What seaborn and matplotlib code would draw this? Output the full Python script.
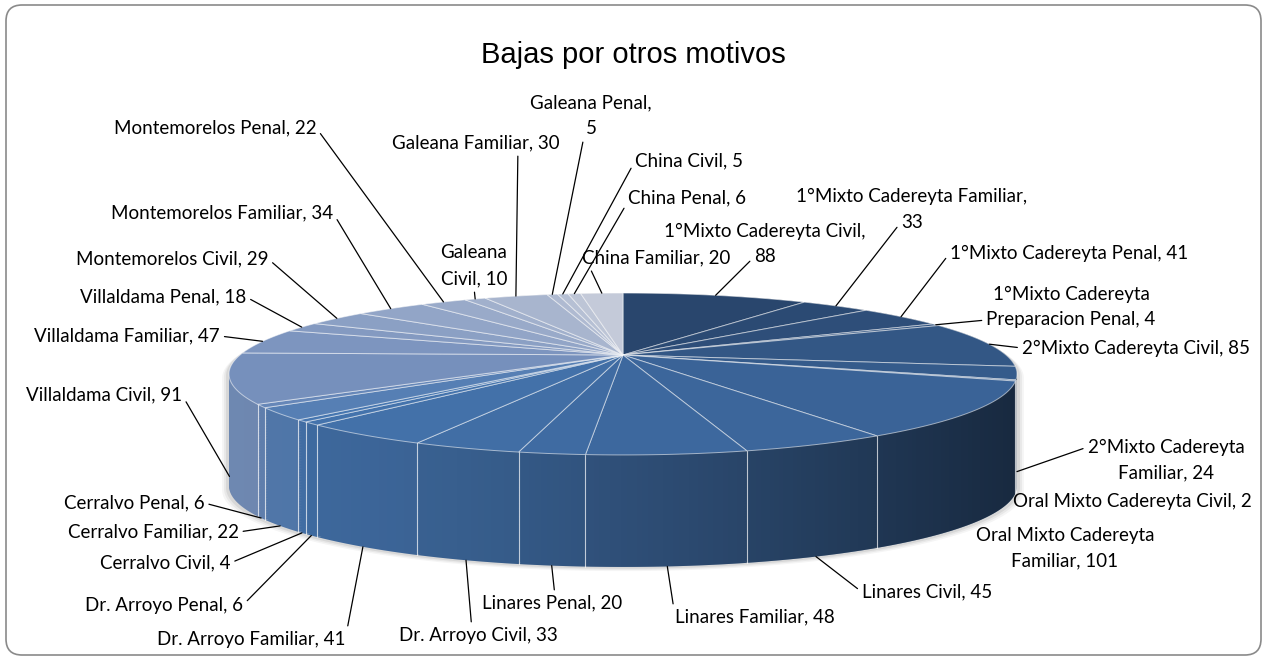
import numpy as np
import matplotlib
matplotlib.use("Agg")
import matplotlib.pyplot as plt
import seaborn as sns
from matplotlib.transforms import Transform
from matplotlib.path import Path
from matplotlib.patches import FancyBboxPatch, Polygon

# ---------------- data ----------------
categories = [
    "1°Mixto Cadereyta Civil", "1°Mixto Cadereyta Familiar", "1°Mixto Cadereyta Penal",
    "1°Mixto Cadereyta Preparacion Penal", "2°Mixto Cadereyta Civil", "2°Mixto Cadereyta Familiar",
    "Oral Mixto Cadereyta Civil", "Oral Mixto Cadereyta Familiar",
    "Linares Civil", "Linares Familiar", "Linares Penal",
    "Dr. Arroyo Civil", "Dr. Arroyo Familiar", "Dr. Arroyo Penal",
    "Cerralvo Civil", "Cerralvo Familiar", "Cerralvo Penal",
    "Villaldama Civil", "Villaldama Familiar", "Villaldama Penal",
    "Montemorelos Civil", "Montemorelos Familiar", "Montemorelos Penal",
    "Galeana Civil", "Galeana Familiar", "Galeana Penal",
    "China Civil", "China Penal", "China Familiar",
]
values = [88, 33, 41, 4, 85, 24, 2, 101, 45, 48, 20, 33, 41, 6, 4, 22, 6,
          91, 47, 18, 29, 34, 22, 10, 30, 5, 5, 6, 20]
title = "Bajas por otros motivos"

# ---------------- layout / style ----------------
W, H = 1267, 659
CX, CY = 623.0, 304.0        # pie vertex (pixels, y up)
RX, RY = 383.0, 76.5         # projected radii
PERSP = 0.2346               # perspective strength
DEPTH = 112.0                # side height in pixels
LINE_GAP = 26.0              # distance between wrapped label lines

# label layout: (center x, center y from top, leader rel x, leader rel y, line carrying leader)
label_pos = [
    (765, 244, 0.0, 0.5, 1), (912, 209, 0.0, 0.5, 1), (1069, 253, 0.0, 0.5, 0),
    (1071, 307, 0.0, 0.5, 1), (1136, 348, 0.0, 0.5, 0), (1166, 460, 0.0, 0.5, 0),
    (1132, 502, None, None, 0), (1065, 548, None, None, 0),
    (927, 592, 0.0, 0.5, 0), (755, 617, 0.0, 0.5, 0), (552, 603, 0.52, 1.0, 0),
    (478, 635, 0.46, 1.0, 0), (251, 639, 1.0, 0.5, 0), (164, 605, 1.0, 0.5, 0),
    (165, 563, 1.0, 0.5, 0), (153, 532, 1.0, 0.5, 0), (134, 503, 1.0, 0.5, 0),
    (104, 395, 1.0, 0.5, 0), (127, 336, 1.0, 0.5, 0), (163, 297, 1.0, 0.5, 0),
    (172, 259, 1.0, 0.5, 0), (222, 213, 1.0, 0.5, 0), (215, 128, 1.0, 0.5, 0),
    (474, 266, 0.5, 0.0, 1), (476, 143, 0.75, 0.0, 0), (591, 116, 0.0, 0.5, 1),
    (689, 161, 0.0, 0.5, 0), (687, 198, 0.0, 0.3, 0), (656, 258, 0.05, 0.0, 0),
]
label_breaks = {0: "Civil,", 1: "Familiar,", 3: "Cadereyta", 5: "Cadereyta",
                7: "Cadereyta", 23: "Galeana", 25: "Penal,"}

sns.set_theme(style="white")
plt.rcParams["font.family"] = ["Lato", "DejaVu Sans"]

dark = sns.blend_palette(["#29466D", "#3A6397", "#4676B0"], 15)
light = (sns.blend_palette(["#4676B0", "#7690BC"], 4)[1:]
         + sns.blend_palette(["#7690BC", "#C4CAD9"], 12)[1:])
top_colors = [tuple(c) for c in dark] + [tuple(c) for c in light]
side_colors = [tuple(np.array(c[:3]) * 0.97) for c in top_colors]


class Perspective(Transform):
    input_dims = output_dims = 2
    is_separable = False
    has_inverse = False

    def __init__(self, dy=0.0):
        super().__init__()
        self.dy = dy

    def transform_non_affine(self, values):
        v = np.asarray(values, dtype=float).reshape(-1, 2)
        x, y = v[:, 0], v[:, 1]
        w = 1.0 + PERSP * y
        return np.column_stack([CX + RX * x / w, CY + RY * y / w + self.dy])

    def transform_path_non_affine(self, path):
        pts = []
        for seg, code in path.iter_bezier():
            cp = seg.control_points
            if seg.degree <= 1:
                p = np.asarray(cp)
            else:
                p = seg(np.linspace(0, 1, 18))
            if pts:
                p = p[1:]
            pts.append(p)
        pts = np.vstack(pts)
        tp = self.transform_non_affine(pts)
        return Path(np.vstack([tp, tp[:1]]), closed=True)


def project(x, y, dy=0.0):
    return Perspective(dy).transform_non_affine(np.column_stack([np.atleast_1d(x), np.atleast_1d(y)]))


fig = plt.figure(figsize=(W / 100, H / 100), dpi=100)
fig.patch.set_facecolor("white")
ax = fig.add_axes([0, 0, 1, 1])

# border
ax.add_patch(FancyBboxPatch((6, 4), W - 12, H - 9,
                            boxstyle="round,pad=0,rounding_size=16",
                            fc="white", ec="#8a8a8a", lw=1.2, zorder=0))

# soft shadow
k = PERSP
tR, tL = -np.arcsin(k), np.pi + np.arcsin(k)
t_up = np.linspace(tR, tL, 200)
t_lo = np.linspace(tL, tR + 2 * np.pi, 200)
hull = np.vstack([project(np.cos(t_up), np.sin(t_up), 0.0),
                  project(np.cos(t_lo), np.sin(t_lo), -DEPTH)])
for s, a in [(7, 0.04), (5, 0.05), (3, 0.07)]:
    sh = hull.copy()
    sh[:, 0] = CX + (sh[:, 0] - CX) * (1 + s / 400)
    sh[:, 1] = sh[:, 1] - s * 0.6
    ax.add_patch(Polygon(sh, closed=True, fc="black", ec="none", alpha=a, zorder=1))

# side layers
for dy in np.linspace(-DEPTH, -1.0, 70):
    wedges, _ = ax.pie(values, colors=side_colors, startangle=90, counterclock=False,
                       wedgeprops=dict(linewidth=0, edgecolor="none"))
    tr = Perspective(dy) + ax.transData
    for w in wedges:
        w.set_transform(tr)
        w.set_zorder(2)

# side lighting gradient
xl, xr = hull[:, 0].min(), hull[:, 0].max()
u = np.linspace(0, 1, 512)
grad = np.zeros((1, 512, 4))
grad[0, :, 3] = np.clip(0.03 + 0.54 * u ** 1.5, 0, 1)
im = ax.imshow(grad, extent=[xl, xr, hull[:, 1].min(), hull[:, 1].max()],
               aspect="auto", zorder=3, interpolation="bilinear")
clip = Polygon(hull, closed=True, transform=ax.transData)
im.set_clip_path(clip)

# side separator lines
total = float(sum(values))
bounds = 90 - 360 * np.cumsum([0] + values) / total
for b in bounds:
    bx, by = np.cos(np.radians(b)), np.sin(np.radians(b))
    if by < -k - 0.02:
        p0 = project(bx, by, 0.0)[0]
        p1 = project(bx, by, -DEPTH)[0]
        ax.plot([p0[0], p1[0]], [p0[1], p1[1]], color="white", lw=0.8, alpha=0.7, zorder=3.5)

# top face
wedges, _ = ax.pie(values, colors=top_colors, startangle=90, counterclock=False,
                   wedgeprops=dict(linewidth=0.7, edgecolor=(1, 1, 1, 0.55)))
tr = Perspective(0.0) + ax.transData
for w in wedges:
    w.set_transform(tr)
    w.set_zorder(4)

# labels with leader lines
cum = np.cumsum([0] + values)
for i, (cat, val) in enumerate(zip(categories, values)):
    txt = f"{cat}, {val}"
    if i in label_breaks:
        txt = txt.replace(label_breaks[i] + " ", label_breaks[i] + "\n", 1)
    lines = txt.split("\n")
    mid = np.radians(90 - 360 * (cum[i] + val / 2) / total)
    mx, my = np.cos(mid), np.sin(mid)
    if my >= 0:
        dy = 0.0
    elif my > -0.5:
        dy = -DEPTH * 0.88
    else:
        dy = -DEPTH
    ax_pt = project(mx, my, dy)[0]
    lx, ly, rx, ry, lead_line = label_pos[i]
    n = len(lines)
    for j, line in enumerate(lines):
        yy = ly + (j - (n - 1) / 2) * LINE_GAP
        kw = {}
        if rx is not None and j == lead_line:
            kw["arrowprops"] = dict(arrowstyle="-", color="black", lw=0.9,
                                    relpos=(rx, ry), shrinkA=1, shrinkB=0)
        ax.annotate(line, xy=(ax_pt[0], ax_pt[1]), xytext=(lx, H - yy),
                    xycoords="data", textcoords="data", ha="center", va="center",
                    fontsize=13.5, color="black", zorder=10, **kw)

ax.text(W / 2, H - 55, title, ha="center", va="center", fontsize=21,
        family=["Liberation Sans", "DejaVu Sans"], color="black", zorder=10)

ax.set_aspect("auto")
ax.set_xlim(0, W)
ax.set_ylim(0, H)
ax.axis("off")
fig.savefig("out.png", dpi=100, facecolor="white")
